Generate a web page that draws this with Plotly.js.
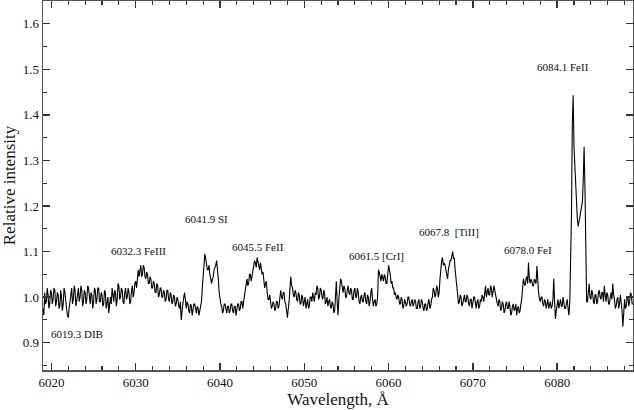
<!DOCTYPE html>
<html>
<head>
<meta charset="utf-8">
<script src="https://cdn.plot.ly/plotly-3.0.1.min.js"></script>
<style>html,body{margin:0;padding:0;background:#fff;}#chart{width:634px;height:410px;}</style>
</head>
<body>
<div id="chart"></div>
<script>
// Sampling grid of the spectrum (Angstrom)
const wlStart = 6019.0;
const wlStep = 0.1;
// Relative intensity, one row per 2 Angstrom
const intensity = [
  0.975,0.96,1.01,0.985,0.99,1.02,1.005,0.975,0.985,1.015,1.01,0.985,0.995,1.02,1.015,0.98,0.99,1.01,1.005,0.975,
  0.98,1.015,1.0,0.97,0.985,1.02,1.01,0.985,0.975,0.96,0.955,0.975,0.99,1.01,1.02,0.985,0.995,1.025,1.015,0.98,
  0.99,1.005,1.02,0.99,1.0,1.025,1.015,0.98,0.99,1.015,1.01,0.985,0.995,1.025,1.02,0.99,0.985,1.01,1.005,0.975,
  0.99,1.02,1.015,0.985,0.995,1.02,1.02,0.99,0.99,1.01,1.005,0.98,0.985,1.015,1.01,0.975,0.99,1.0,0.965,0.985,
  1.0,0.985,1.02,1.005,0.99,1.015,1.01,0.98,0.995,1.03,1.025,0.995,1.0,1.02,1.015,0.99,0.985,1.01,1.02,0.995,
  1.0,1.02,1.01,0.985,0.99,1.015,1.025,1.0,1.01,1.03,1.035,1.02,1.05,1.06,1.045,1.065,1.07,1.045,1.05,1.07,
  1.065,1.045,1.04,1.055,1.05,1.03,1.03,1.045,1.04,1.02,1.02,1.035,1.03,1.01,1.01,1.03,1.025,1.0,1.005,1.02,
  1.02,1.0,1.0,1.015,1.01,0.99,0.995,1.015,1.015,0.995,0.99,1.01,1.005,0.985,0.99,1.005,1.0,0.98,0.985,1.0,
  0.995,0.98,0.975,0.99,0.95,0.97,0.99,1.0,1.01,0.985,0.975,0.99,0.985,0.97,0.965,0.985,0.98,0.96,0.97,0.985,
  0.985,0.97,0.965,0.98,0.975,0.96,0.97,0.98,0.99,1.02,1.05,1.075,1.095,1.085,1.075,1.06,1.06,1.07,1.05,1.04,
  1.03,1.04,1.045,1.06,1.065,1.07,1.08,1.065,1.04,1.01,0.995,0.985,0.98,0.965,0.97,0.985,0.985,0.97,0.965,0.98,
  0.98,0.965,0.97,0.985,0.985,0.97,0.965,0.98,0.98,0.96,0.97,0.985,0.985,0.97,0.975,0.99,0.99,0.975,0.99,1.005,
  1.015,1.03,1.04,1.025,1.03,1.05,1.05,1.035,1.045,1.06,1.065,1.08,1.075,1.065,1.087,1.075,1.07,1.06,1.075,1.065,
  1.05,1.055,1.04,1.02,1.03,1.035,1.01,0.995,0.995,1.005,0.99,0.975,0.98,0.99,0.985,0.97,0.975,0.99,0.99,0.975,
  0.98,0.995,1.015,1.0,0.995,1.01,1.01,0.99,0.985,0.97,0.955,0.975,0.99,1.02,1.045,1.025,1.02,1.005,1.0,1.015,
  1.01,0.995,0.99,1.01,1.005,0.985,0.985,1.005,1.0,0.98,0.99,1.0,0.975,0.985,0.995,0.975,0.98,1.0,1.0,0.99,
  1.01,1.0,0.99,1.01,1.005,1.025,1.02,0.995,1.0,1.02,1.015,1.0,0.995,1.015,1.01,0.985,0.99,1.0,0.98,0.99,
  0.995,0.98,0.975,0.99,0.985,0.965,0.97,1.0,1.035,0.99,0.96,0.995,1.02,1.04,1.035,1.015,1.01,1.025,1.02,1.0,
  1.0,1.015,1.025,1.01,1.005,1.02,1.015,0.995,0.995,1.015,1.02,1.0,1.0,1.02,1.01,0.99,0.985,1.0,1.005,0.99,
  0.99,1.005,1.01,0.99,0.985,1.005,1.0,0.98,0.99,1.01,1.02,0.995,0.98,0.99,0.995,0.98,0.985,1.0,1.06,1.055,
  1.045,1.035,1.05,1.04,1.035,1.05,1.045,1.03,1.03,1.05,1.07,1.06,1.05,1.03,1.035,1.02,1.02,1.005,1.01,1.0,
  0.995,1.005,1.0,0.985,0.985,1.0,0.995,0.975,0.98,0.995,0.99,0.98,0.985,1.0,1.0,0.985,0.98,0.99,0.995,0.98,
  0.985,0.995,0.99,0.975,0.975,0.99,0.995,0.975,0.98,0.995,0.99,0.975,0.97,0.985,0.985,0.97,0.975,0.99,0.995,0.975,
  0.98,0.995,1.0,1.02,1.015,1.0,1.005,1.025,1.02,1.0,1.01,1.04,1.07,1.08,1.087,1.07,1.075,1.07,1.06,1.05,
  1.04,1.06,1.07,1.08,1.08,1.09,1.1,1.085,1.085,1.06,1.04,1.01,0.995,0.985,0.99,1.005,1.0,0.98,0.985,1.0,
  1.005,0.99,0.99,1.005,1.0,0.985,0.98,0.995,0.995,0.975,0.985,1.0,1.0,0.98,0.975,0.99,0.995,0.975,0.98,0.995,
  0.99,1.005,1.0,0.99,1.015,1.025,1.0,1.015,1.02,1.005,1.005,1.025,1.02,1.0,1.01,1.025,1.015,1.0,0.995,0.985,
  0.98,0.995,0.99,0.97,0.975,0.99,0.985,0.965,0.97,0.985,0.99,0.975,0.975,0.99,0.98,0.96,0.965,0.98,0.985,0.97,
  0.975,0.985,0.96,0.975,0.98,0.965,0.97,0.985,0.995,1.02,1.04,1.03,1.025,1.04,1.045,1.03,1.076,1.04,1.03,1.04,
  1.035,1.025,1.025,1.04,1.035,1.03,1.068,1.03,1.01,0.995,0.99,1.0,1.0,0.985,0.98,0.995,0.99,0.975,0.985,0.995,
  0.975,0.985,0.99,0.975,0.98,0.995,1.04,0.99,0.952,0.97,0.985,0.995,0.975,0.985,0.995,0.98,0.98,1.0,0.99,0.975,
  0.975,0.99,0.995,0.975,0.96,0.99,1.06,1.18,1.38,1.443,1.33,1.285,1.225,1.2,1.17,1.155,1.165,1.18,1.185,1.195,
  1.21,1.26,1.33,1.24,1.03,0.99,0.99,1.01,1.03,1.0,0.995,1.015,1.01,0.99,0.985,1.005,1.005,0.985,0.99,1.01,
  1.015,1.0,0.995,1.01,1.01,0.99,1.025,1.005,0.99,1.01,1.005,0.985,0.985,1.0,1.01,0.995,1.03,1.005,0.995,0.975,
  0.98,0.995,1.0,0.975,0.985,1.005,0.99,0.97,0.935,0.98,0.995,0.975,0.98,1.0,1.0,0.98,0.99,1.01,1.005,0.985,
  0.985
];
// Line identifications: label text and anchor position (wavelength, intensity)
const lineLabels = ["6019.3 DIB","6032.3 FeIII","6041.9 SI","6045.5 FeII","6061.5 [CrI]","6067.8\u00a0 [TiII]","6078.0 FeI","6084.1 FeII"];
const labelX = [6023.05, 6030.3, 6038.4, 6044.55, 6058.6, 6067.2, 6076.6, 6080.75];
const labelY = [0.920, 1.101, 1.172, 1.110, 1.090, 1.142, 1.104, 1.506];

const wavelength = intensity.map((_, i) => +(wlStart + i * wlStep).toFixed(2));

const FONT = 'Liberation Serif';

const trace = {
  x: wavelength, y: intensity, type: 'scatter', mode: 'lines',
  line: {color: '#000', width: 1.1}, hoverinfo: 'skip'
};

const annotations = lineLabels.map((t, i) => ({
  x: labelX[i], y: labelY[i], xref: 'x', yref: 'y', text: t, showarrow: false,
  font: {family: FONT, size: 11, color: '#111'}, xanchor: 'center', yanchor: 'middle'
}));

function axisBase() {
  return {
    showgrid: false, zeroline: false, showline: true, linecolor: '#555', linewidth: 1.5,
    mirror: 'allticks', ticks: 'inside', ticklen: 7, tickwidth: 1.3, tickcolor: '#333',
    tickfont: {family: FONT, size: 13, color: '#111'}
  };
}

const layout = {
  width: 634, height: 410,
  margin: {l: 43, r: 1, t: 1, b: 40},
  paper_bgcolor: '#fff', plot_bgcolor: '#fff',
  showlegend: false,
  font: {family: FONT, color: '#111'},
  xaxis: Object.assign(axisBase(), {
    range: [6019.0, 6089.0], tickmode: 'linear', tick0: 6020, dtick: 10,
    minor: {dtick: 2, tick0: 6020, ticks: 'inside', ticklen: 4, tickwidth: 1.1, tickcolor: '#333', showgrid: false},
    title: {text: 'Wavelength, Å', font: {family: FONT, size: 17, color: '#111'}, standoff: 4}
  }),
  yaxis: Object.assign(axisBase(), {
    range: [0.84, 1.65], tickmode: 'linear', tick0: 0.9, dtick: 0.1, tickformat: '.1f',
    minor: {dtick: 0.05, tick0: 0.85, ticks: 'inside', ticklen: 4, tickwidth: 1.1, tickcolor: '#333', showgrid: false},
    title: {text: 'Relative intensity', font: {family: FONT, size: 17, color: '#111'}, standoff: 6}
  }),
  annotations: annotations
};

Plotly.newPlot('chart', [trace], layout, {staticPlot: true, displayModeBar: false});
</script>
</body>
</html>
